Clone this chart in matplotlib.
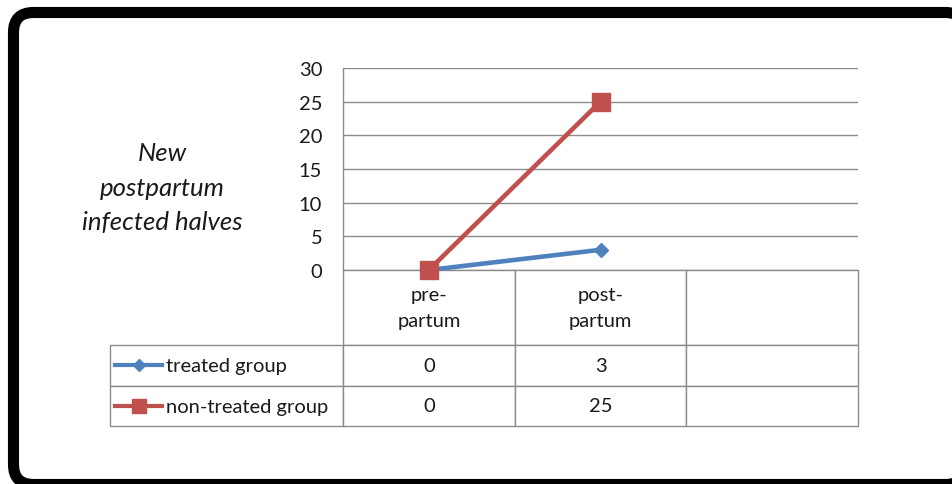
import numpy as np
import matplotlib
matplotlib.use("Agg")
import matplotlib.pyplot as plt
from matplotlib.table import Table
from matplotlib.patches import FancyBboxPatch

plt.rcParams['font.family'] = ['Lato', 'DejaVu Sans']

# data
categories = ['pre-\npartum', 'post-\npartum', '']
series_names = ['treated group', 'non-treated group']
treated = [0, 3]
non_treated = [0, 25]
y_ticks = [0, 5, 10, 15, 20, 25, 30]

blue = '#4F81BD'
red = '#C0504D'
grid_col = '#8c8c8c'
txt_col = '#1a1a1a'
fs = 14.5

W, H = 953, 485
fig = plt.figure(figsize=(W / 100, H / 100), dpi=100)
fig.patch.set_facecolor('white')

# rounded black frame around everything (runs off the right and bottom edges);
# filled white and kept under the axes so Agg doesn't clip the stroke path
frame = FancyBboxPatch((13.5 / W, -0.5 / H), 952 / W, 472 / H,
                       boxstyle='round,pad=0,rounding_size=%f' % (20 / W),
                       mutation_aspect=W / H,
                       linewidth=8, edgecolor='black', facecolor='white',
                       transform=fig.transFigure, clip_on=False, zorder=-1)
fig.patches.append(frame)

# plot area (pixel box 343..858 x 69..271)
ax_w, ax_h = 515, 202
ax = fig.add_axes([343 / W, 1 - 271 / H, ax_w / W, ax_h / H])
x = np.arange(len(treated))
ax.plot(x, treated, color=blue, lw=3.3, marker='D', ms=7,
        clip_on=False, zorder=4)
ax.plot(x, non_treated, color=red, lw=3.3, marker='s', ms=12.5,
        clip_on=False, zorder=5)

ax.set_xlim(-0.5, len(categories) - 0.5)
ax.set_ylim(0, 30)
ax.set_yticks(y_ticks)
ax.set_xticks([])
ax.tick_params(axis='y', length=0, pad=15, labelsize=fs, labelcolor=txt_col)
ax.yaxis.grid(True, color=grid_col, lw=1)
ax.set_axisbelow(True)
for s in ['top', 'right', 'bottom']:
    ax.spines[s].set_visible(False)
ax.spines['left'].set_color(grid_col)
ax.spines['left'].set_linewidth(1)

ax.set_ylabel('New\npostpartum\ninfected halves', rotation=0, fontsize=18.5,
              style='italic', color=txt_col, ha='center', va='center',
              linespacing=1.6)
ax.yaxis.set_label_coords(-0.3515, 0.41)

# data table under the axis, sizes in axes units
row_h = [75 / ax_h, 41 / ax_h, 40 / ax_h]
col_w = 1 / len(categories)
lab_w = 233 / ax_w
tbl = Table(ax, bbox=[0, -sum(row_h), 1, sum(row_h)])
tbl.auto_set_font_size(False)

for j, cat in enumerate(categories):
    c = tbl.add_cell(0, j, col_w, row_h[0], text=cat, loc='center',
                     edgecolor=grid_col)
    c.get_text().set_linespacing(1.6)

for i, (name, vals) in enumerate(zip(series_names, [treated, non_treated])):
    r = i + 1
    c = tbl.add_cell(r, -1, lab_w, row_h[r], text=name, loc='left',
                     edgecolor=grid_col)
    c.PAD = 0.24
    for j in range(len(categories)):
        t = str(vals[j]) if j < len(vals) else ''
        tbl.add_cell(r, j, col_w, row_h[r], text=t, loc='center',
                     edgecolor=grid_col)

for cell in tbl.get_celld().values():
    cell.set_linewidth(1)
    cell.get_text().set_fontsize(fs)
    cell.get_text().set_color(txt_col)
ax.add_table(tbl)

# legend keys drawn in the row-label cells
kx = [(115 - 343) / ax_w, (162 - 343) / ax_w]
ky = [-(366 - 271) / ax_h, -(407 - 271) / ax_h]
ax.plot(kx, [ky[0]] * 2, color=blue, lw=3, transform=ax.transAxes,
        clip_on=False)
ax.plot(np.mean(kx), ky[0], color=blue, marker='D', ms=6,
        transform=ax.transAxes, clip_on=False)
ax.plot(kx, [ky[1]] * 2, color=red, lw=3, transform=ax.transAxes,
        clip_on=False)
ax.plot(np.mean(kx), ky[1], color=red, marker='s', ms=10,
        transform=ax.transAxes, clip_on=False)

fig.savefig('out.png', dpi=100, facecolor='white')
